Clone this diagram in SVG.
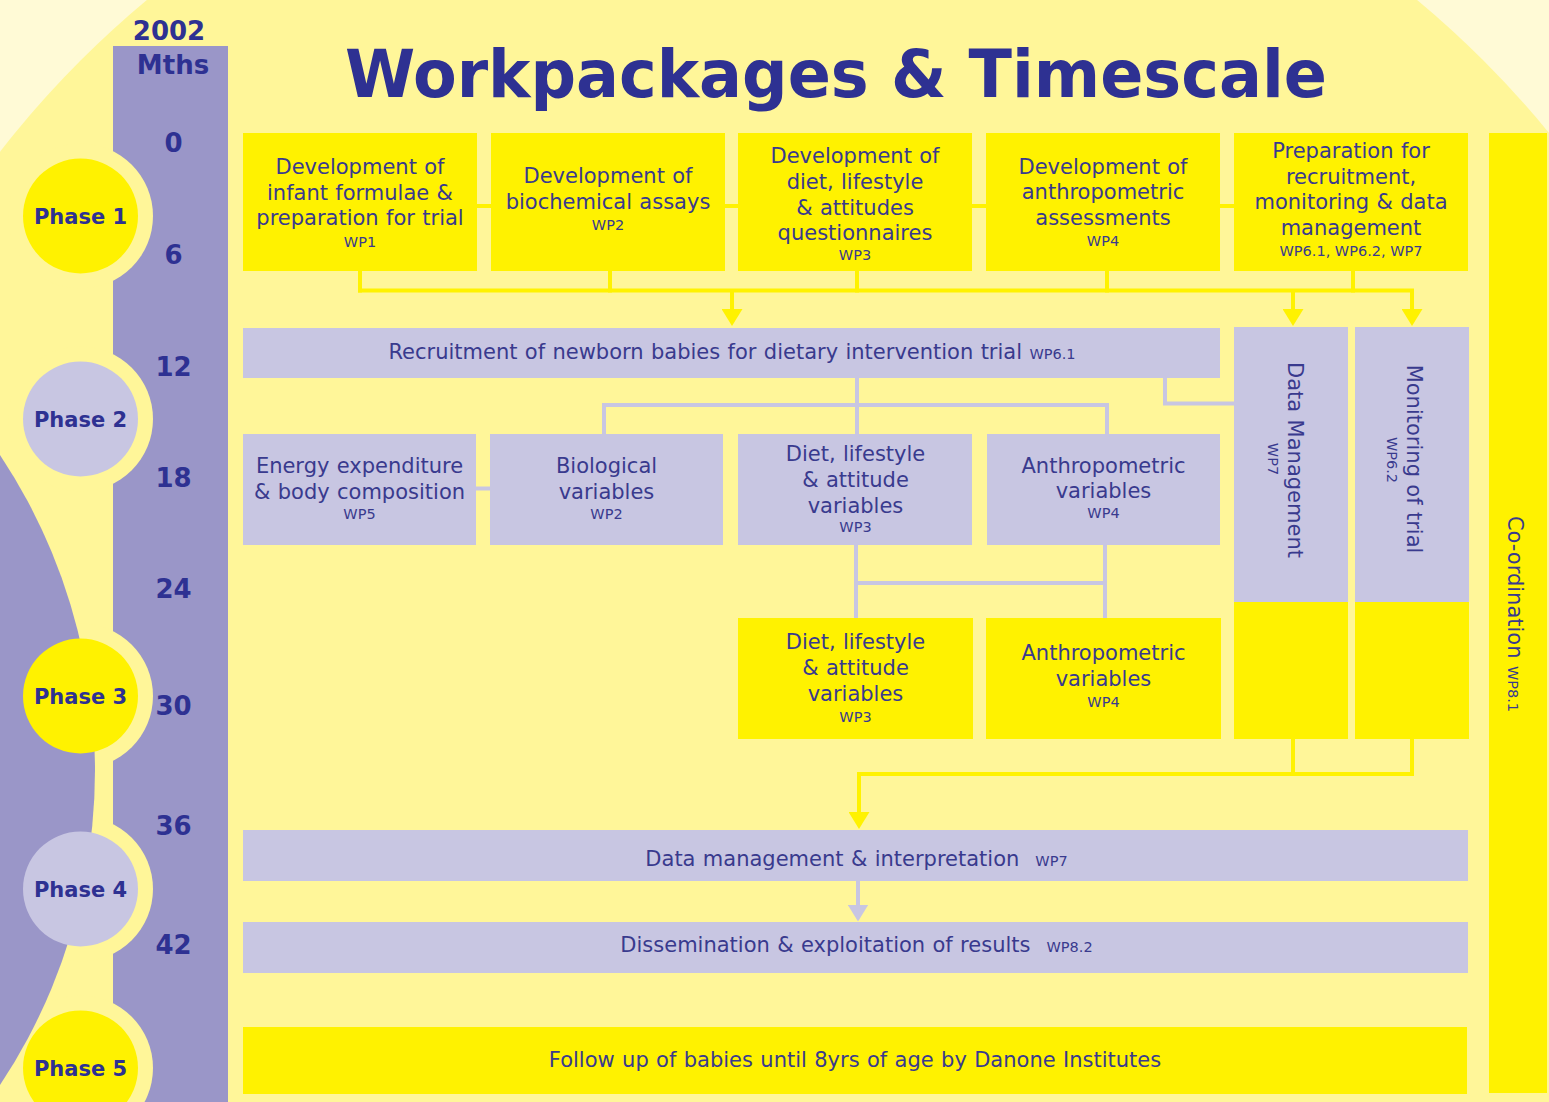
<svg xmlns="http://www.w3.org/2000/svg" width="1549" height="1102" viewBox="0 0 1549 1102">
  <style>
    .t { font-family: "DejaVu Sans", Verdana, sans-serif; font-size: 21px; fill: #393A8E; text-anchor: middle; word-spacing: 0.7px; }
    .wp { font-size: 14.5px; word-spacing: 0; }
    .b { font-family: "DejaVu Sans", Verdana, sans-serif; font-weight: bold; fill: #2E3192; text-anchor: middle; }
    .mth { font-size: 26px; }
    .ph { font-size: 21px; }
    .yel { fill: #FFF200; }
    .lav { fill: #C8C6E2; }
    .ring { fill: #FFF699; }
    .cy { stroke: #FFF200; stroke-width: 4; fill: none; }
    .cl { stroke: #C8C6E2; stroke-width: 4; fill: none; }
  </style>
  <defs>
    <marker id="arrY" markerUnits="userSpaceOnUse" markerWidth="17" markerHeight="21" viewBox="0 0 17 21" refX="0.5" refY="10.5" orient="auto">
      <path d="M0,0 L17,10.5 L0,21 z" fill="#FFF200"/>
    </marker>
    <marker id="arrL" markerUnits="userSpaceOnUse" markerWidth="17" markerHeight="21" viewBox="0 0 17 21" refX="0.5" refY="10.5" orient="auto">
      <path d="M0,0 L17,10.5 L0,21 z" fill="#C8C6E2"/>
    </marker>
  </defs>

  <!-- backdrop: pale disc, month column, rings cut into the column, lavender sweep on the left -->
  <g id="backdrop">
    <rect x="0" y="0" width="1549" height="1102" fill="#FFFAD6"/>
    <circle cx="782" cy="762" r="992" fill="#FFF699"/>
    <rect x="113" y="46" width="115" height="1056" fill="#9A96C8"/>
    <circle class="ring" cx="80.5" cy="216" r="72.5"/>
    <circle class="ring" cx="80.5" cy="419" r="72.5"/>
    <circle class="ring" cx="80.5" cy="696" r="72.5"/>
    <circle class="ring" cx="80.5" cy="889" r="72.5"/>
    <circle class="ring" cx="80.5" cy="1068" r="72.5"/>
    <circle cx="-475" cy="770" r="570" fill="#9A96C8"/>
  </g>

  <!-- timeline -->
  <g id="timeline">
    <text class="b mth" x="169" y="40">2002</text>
    <text class="b mth" x="173" y="74">Mths</text>
    <text class="b mth" x="173.5" y="152">0</text>
    <text class="b mth" x="173.5" y="264">6</text>
    <text class="b mth" x="173.5" y="375.5">12</text>
    <text class="b mth" x="173.5" y="487">18</text>
    <text class="b mth" x="173.5" y="598">24</text>
    <text class="b mth" x="173.5" y="715">30</text>
    <text class="b mth" x="173.5" y="835">36</text>
    <text class="b mth" x="173.5" y="954">42</text>
  </g>

  <!-- phases -->
  <g id="phase1">
    <circle cx="80.5" cy="216" r="57.5" class="yel"/>
    <text class="b ph" x="80.5" y="224">Phase 1</text>
  </g>
  <g id="phase2">
    <circle cx="80.5" cy="419" r="57.5" class="lav"/>
    <text class="b ph" x="80.5" y="427">Phase 2</text>
  </g>
  <g id="phase3">
    <circle cx="80.5" cy="696" r="57.5" class="yel"/>
    <text class="b ph" x="80.5" y="704">Phase 3</text>
  </g>
  <g id="phase4">
    <circle cx="80.5" cy="889" r="57.5" class="lav"/>
    <text class="b ph" x="80.5" y="897">Phase 4</text>
  </g>
  <g id="phase5">
    <circle cx="80.5" cy="1068" r="57.5" class="yel"/>
    <text class="b ph" x="80.5" y="1076">Phase 5</text>
  </g>

  <!-- heading -->
  <text id="title" class="b" x="836" y="97" font-size="66" textLength="982" lengthAdjust="spacingAndGlyphs">Workpackages &amp; Timescale</text>

  <!-- connectors -->
  <g id="connectors">
    <!-- phase 1 links -->
    <line class="cy" x1="477" y1="206" x2="1234" y2="206"/>
    <line class="cy" x1="360" y1="271" x2="360" y2="292.5"/>
    <line class="cy" x1="610" y1="271" x2="610" y2="292.5"/>
    <line class="cy" x1="857" y1="271" x2="857" y2="292.5"/>
    <line class="cy" x1="1107" y1="271" x2="1107" y2="292.5"/>
    <line class="cy" x1="1353" y1="271" x2="1353" y2="292.5"/>
    <line class="cy" x1="358" y1="290.5" x2="1414" y2="290.5"/>
    <line class="cy" x1="732" y1="290.5" x2="732" y2="309.5" marker-end="url(#arrY)"/>
    <line class="cy" x1="1293" y1="290.5" x2="1293" y2="309.5" marker-end="url(#arrY)"/>
    <line class="cy" x1="1412" y1="290.5" x2="1412" y2="309.5" marker-end="url(#arrY)"/>
    <!-- phase 2 links -->
    <line class="cl" x1="857" y1="378" x2="857" y2="434"/>
    <line class="cl" x1="602" y1="405" x2="1109" y2="405"/>
    <line class="cl" x1="604" y1="405" x2="604" y2="434"/>
    <line class="cl" x1="1107" y1="405" x2="1107" y2="434"/>
    <path class="cl" d="M1165,378 V403.5 H1234"/>
    <line class="cl" x1="476" y1="488.5" x2="490" y2="488.5"/>
    <line class="cl" x1="856" y1="545" x2="856" y2="618"/>
    <line class="cl" x1="1105" y1="545" x2="1105" y2="618"/>
    <line class="cl" x1="856" y1="583" x2="1105" y2="583"/>
    <!-- phase 3/4 links -->
    <line class="cy" x1="1293" y1="739" x2="1293" y2="776"/>
    <line class="cy" x1="1412" y1="739" x2="1412" y2="776"/>
    <line class="cy" x1="857" y1="774" x2="1414" y2="774"/>
    <line class="cy" x1="859" y1="772" x2="859" y2="812.5" marker-end="url(#arrY)"/>
    <line class="cl" x1="858" y1="881" x2="858" y2="905" marker-end="url(#arrL)"/>
  </g>

  <!-- phase 1 work packages -->
  <g id="wp1">
    <rect x="243" y="133" width="234" height="138" class="yel"/>
    <text class="t" x="360" y="174">Development of</text>
    <text class="t" x="360" y="200">infant formulae &amp;</text>
    <text class="t" x="360" y="225">preparation for trial</text>
    <text class="t wp" x="360" y="247">WP1</text>
  </g>
  <g id="wp2">
    <rect x="491" y="133" width="234" height="138" class="yel"/>
    <text class="t" x="608" y="183">Development of</text>
    <text class="t" x="608" y="208.5">biochemical assays</text>
    <text class="t wp" x="608" y="230">WP2</text>
  </g>
  <g id="wp3">
    <rect x="738" y="133" width="234" height="138" class="yel"/>
    <text class="t" x="855" y="162.5">Development of</text>
    <text class="t" x="855" y="188.5">diet, lifestyle</text>
    <text class="t" x="855" y="214.5">&amp; attitudes</text>
    <text class="t" x="855" y="240">questionnaires</text>
    <text class="t wp" x="855" y="260">WP3</text>
  </g>
  <g id="wp4">
    <rect x="986" y="133" width="234" height="138" class="yel"/>
    <text class="t" x="1103" y="173.5">Development of</text>
    <text class="t" x="1103" y="199">anthropometric</text>
    <text class="t" x="1103" y="225">assessments</text>
    <text class="t wp" x="1103" y="246">WP4</text>
  </g>
  <g id="wp6-7-prep">
    <rect x="1234" y="133" width="234" height="138" class="yel"/>
    <text class="t" x="1351" y="157.5">Preparation for</text>
    <text class="t" x="1351" y="183.5">recruitment,</text>
    <text class="t" x="1351" y="209">monitoring &amp; data</text>
    <text class="t" x="1351" y="235">management</text>
    <text class="t wp" x="1351" y="255.5">WP6.1, WP6.2, WP7</text>
  </g>

  <!-- coordination -->
  <g id="coordination">
    <rect x="1489" y="133" width="58" height="960" class="yel"/>
    <text class="t" transform="translate(1508,614) rotate(90)">Co-ordination <tspan class="wp">WP8.1</tspan></text>
  </g>

  <!-- recruitment -->
  <g id="recruitment">
    <rect x="243" y="328" width="977" height="50" class="lav"/>
    <text class="t" x="732" y="359">Recruitment of newborn babies for dietary intervention trial <tspan class="wp">WP6.1</tspan></text>
  </g>

  <!-- data management & monitoring columns -->
  <g id="data-management">
    <rect x="1234" y="327" width="114" height="275" class="lav"/>
    <rect x="1234" y="602" width="114" height="137" class="yel"/>
    <text class="t" transform="translate(1288,460) rotate(90)">Data Management</text>
    <text class="t wp" transform="translate(1268,459) rotate(90)">WP7</text>
  </g>
  <g id="monitoring">
    <rect x="1355" y="327" width="114" height="275" class="lav"/>
    <rect x="1355" y="602" width="114" height="137" class="yel"/>
    <text class="t" transform="translate(1407,459) rotate(90)">Monitoring of trial</text>
    <text class="t wp" transform="translate(1387,460) rotate(90)">WP6.2</text>
  </g>

  <!-- phase 2 measurements -->
  <g id="wp5-energy">
    <rect x="243" y="434" width="233" height="111" class="lav"/>
    <text class="t" x="359.5" y="472.5">Energy expenditure</text>
    <text class="t" x="359.5" y="498.5">&amp; body composition</text>
    <text class="t wp" x="359.5" y="518.5">WP5</text>
  </g>
  <g id="wp2-biological">
    <rect x="490" y="434" width="233" height="111" class="lav"/>
    <text class="t" x="606.5" y="472.5">Biological</text>
    <text class="t" x="606.5" y="498.5">variables</text>
    <text class="t wp" x="606.5" y="518.5">WP2</text>
  </g>
  <g id="wp3-diet-1">
    <rect x="738" y="434" width="234" height="111" class="lav"/>
    <text class="t" x="855.5" y="461">Diet, lifestyle</text>
    <text class="t" x="855.5" y="487">&amp; attitude</text>
    <text class="t" x="855.5" y="513">variables</text>
    <text class="t wp" x="855.5" y="532">WP3</text>
  </g>
  <g id="wp4-anthro-1">
    <rect x="987" y="434" width="233" height="111" class="lav"/>
    <text class="t" x="1103.5" y="472.5">Anthropometric</text>
    <text class="t" x="1103.5" y="498">variables</text>
    <text class="t wp" x="1103.5" y="517.5">WP4</text>
  </g>

  <!-- phase 3 measurements -->
  <g id="wp3-diet-2">
    <rect x="738" y="618" width="235" height="121" class="yel"/>
    <text class="t" x="855.5" y="649">Diet, lifestyle</text>
    <text class="t" x="855.5" y="675">&amp; attitude</text>
    <text class="t" x="855.5" y="701">variables</text>
    <text class="t wp" x="855.5" y="722">WP3</text>
  </g>
  <g id="wp4-anthro-2">
    <rect x="986" y="618" width="235" height="121" class="yel"/>
    <text class="t" x="1103.5" y="659.5">Anthropometric</text>
    <text class="t" x="1103.5" y="686">variables</text>
    <text class="t wp" x="1103.5" y="707">WP4</text>
  </g>

  <!-- phase 4 / 5 bars -->
  <g id="wp7-interpretation">
    <rect x="243" y="830" width="1225" height="51" class="lav"/>
    <text class="t" x="856.5" y="865.5">Data management &amp; interpretation<tspan class="wp" dx="16">WP7</tspan></text>
  </g>
  <g id="wp8-dissemination">
    <rect x="243" y="922" width="1225" height="51" class="lav"/>
    <text class="t" x="856.5" y="952">Dissemination &amp; exploitation of results<tspan class="wp" dx="16">WP8.2</tspan></text>
  </g>
  <g id="follow-up">
    <rect x="243" y="1027" width="1224" height="67" class="yel"/>
    <text class="t" x="855" y="1067">Follow up of babies until 8yrs of age by Danone Institutes</text>
  </g>
</svg>
